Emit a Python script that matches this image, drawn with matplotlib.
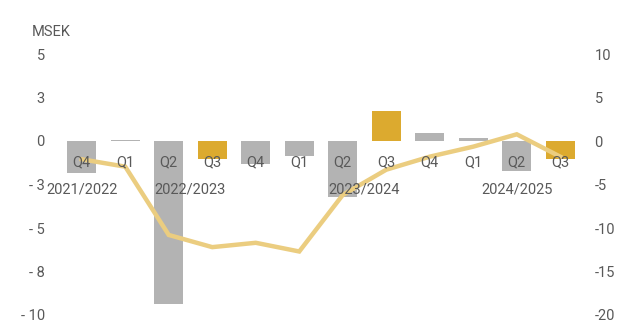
import matplotlib
matplotlib.use("Agg")
import matplotlib.pyplot as plt
from matplotlib.ticker import FixedLocator, FixedFormatter

plt.rcParams["font.family"] = ["Roboto", "DejaVu Sans"]

# Quarterly data
quarters = ["Q4", "Q1", "Q2", "Q3", "Q4", "Q1", "Q2", "Q3", "Q4", "Q1", "Q2", "Q3"]
years = ["2021/2022", "2022/2023", "2023/2024", "2024/2025"]
year_of_quarter = [0, 1, 1, 1, 1, 2, 2, 2, 2, 3, 3, 3]
bar_values = [-1.84, 0.03, -9.37, -1.05, -1.34, -0.84, -3.24, 1.72, 0.44, 0.15, -1.70, -1.03]
line_values = [-2.1, -2.95, -10.8, -12.2, -11.7, -12.7, -6.2, -3.3, -1.8, -0.65, 0.77, -1.8]

left_ticks = [-10, -7.5, -5, -2.5, 0, 2.5, 5]
left_labels = ["- 10", "- 8", "- 5", "- 3", "0", "3", "5"]
right_ticks = [-20, -15, -10, -5, 0, 5, 10]
right_labels = ["-20", "-15", "-10", "-5", "0", "5", "10"]
unit_label = "MSEK"

GREY = "#B3B3B3"
GOLD = "#DCAA2F"
LINE = "#EBCD80"
TEXT = "#595959"

fig = plt.figure(figsize=(6.19, 3.22), dpi=100)
ax = fig.add_axes([60 / 619, 7 / 322, 522 / 619, 261 / 322])
x = list(range(len(quarters)))
colors = [GOLD if q == "Q3" else GREY for q in quarters]
ax.bar(x, bar_values, width=0.67, color=colors, zorder=2)
ax.set_xlim(-0.5, len(quarters) - 0.5)
ax.set_ylim(-10, 5)
ax.yaxis.set_major_locator(FixedLocator(left_ticks))
ax.yaxis.set_major_formatter(FixedFormatter(left_labels))
ax.set_xticks([])

ax2 = ax.twinx()
ax2.plot(x, line_values, color=LINE, lw=3.2, solid_joinstyle="miter", zorder=3)
ax2.set_ylim(-20, 10)
ax2.yaxis.set_major_locator(FixedLocator(right_ticks))
ax2.yaxis.set_major_formatter(FixedFormatter(right_labels))

for a in (ax, ax2):
    for s in a.spines.values():
        s.set_visible(False)
ax.tick_params(length=0, labelsize=10.5, labelcolor=TEXT, pad=11)
ax2.tick_params(length=0, labelsize=10.5, labelcolor=TEXT, pad=9)

# Quarter and fiscal-year labels
for xi, q in zip(x, quarters):
    ax2.text(xi, 0.586, q, transform=ax2.get_xaxis_transform(), ha="center", va="center",
             fontsize=10.5, color=TEXT, zorder=5)
for yi, name in enumerate(years):
    idx = [i for i, g in enumerate(year_of_quarter) if g == yi]
    cx = sum(idx) / len(idx)
    ax2.text(cx, 0.479, name, transform=ax2.get_xaxis_transform(), ha="center", va="center",
             fontsize=10.5, color=TEXT, zorder=5)

fig.text(32 / 619, 1 - 32 / 322, unit_label, ha="left", va="center", fontsize=10.5, color=TEXT)

fig.savefig("out.png", dpi=100)
